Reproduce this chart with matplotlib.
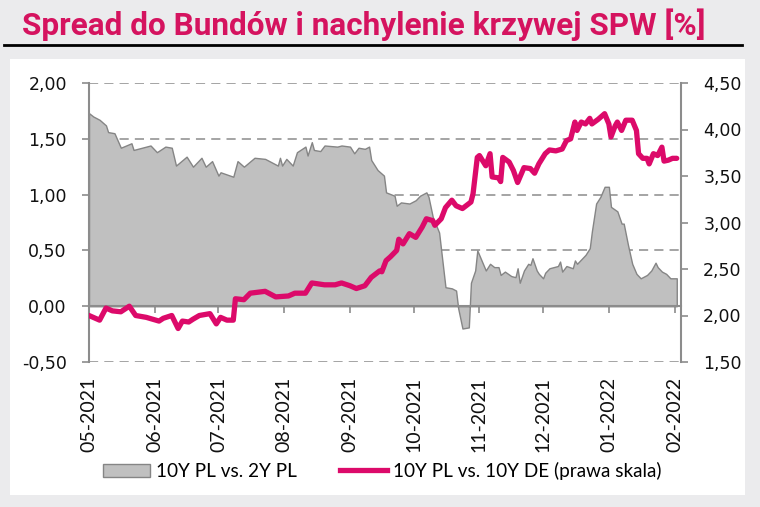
import numpy as np
import matplotlib
matplotlib.use("Agg")
import matplotlib.pyplot as plt
import matplotlib.dates as mdates
from matplotlib.ticker import FuncFormatter, MultipleLocator
from matplotlib.patches import Rectangle, Patch
from matplotlib.lines import Line2D

# dane (dni od 2021-05-01)
start = np.datetime64("2021-05-01")

slope_days = [0, 2, 5, 8, 9, 12, 15, 20, 21, 29, 32, 36, 39, 41, 46, 49, 53, 55, 58, 61,
              62, 68, 70, 73, 78, 83, 89, 90, 91, 93, 96, 98, 102, 103, 105, 106, 109, 111,
              117, 119, 123, 125, 127, 130, 132, 133, 136, 139, 140, 144, 145, 147, 151, 154,
              156, 159, 160, 162, 165, 168, 171, 173, 174, 176, 179, 180, 182, 183, 185, 187,
              189, 191, 193, 194, 196, 199, 201, 202, 203, 205, 207, 208, 209, 211, 212, 214,
              215, 217, 221, 222, 223, 225, 228, 229, 230, 234, 236, 237, 239, 241, 243, 245,
              246, 249, 251, 252, 254, 256, 258, 260, 263, 265, 267, 268, 270, 272, 274, 277]
slope_vals = [1.73, 1.70, 1.67, 1.62, 1.56, 1.55, 1.42, 1.46, 1.40, 1.44, 1.38, 1.43, 1.42,
              1.26, 1.34, 1.25, 1.33, 1.25, 1.30, 1.17, 1.20, 1.16, 1.30, 1.25, 1.33, 1.32,
              1.26, 1.33, 1.26, 1.32, 1.26, 1.38, 1.43, 1.35, 1.47, 1.40, 1.39, 1.44, 1.43,
              1.44, 1.43, 1.37, 1.42, 1.41, 1.43, 1.31, 1.22, 1.17, 1.02, 0.99, 0.90, 0.93,
              0.92, 0.95, 0.99, 1.02, 0.98, 0.80, 0.66, 0.17, 0.16, 0.14, -0.02, -0.20, -0.19,
              0.21, 0.32, 0.50, 0.41, 0.32, 0.38, 0.35, 0.35, 0.28, 0.31, 0.27, 0.26, 0.34,
              0.21, 0.32, 0.38, 0.37, 0.43, 0.32, 0.29, 0.25, 0.30, 0.34, 0.36, 0.40, 0.31,
              0.36, 0.34, 0.41, 0.38, 0.46, 0.52, 0.67, 0.92, 0.98, 1.07, 1.07, 0.89, 0.85,
              0.74, 0.74, 0.55, 0.38, 0.29, 0.25, 0.28, 0.32, 0.39, 0.35, 0.31, 0.29, 0.25, 0.25]

bund_days = [0, 5, 8, 11, 15, 19, 22, 27, 33, 35, 39, 42, 44, 47, 49, 52, 57, 60, 62, 65,
             68, 69, 73, 76, 83, 88, 94, 97, 102, 105, 111, 116, 119, 123, 126, 130, 133,
             137, 138, 140, 142, 145, 146, 148, 151, 154, 157, 159, 162, 163, 166, 168, 171,
             173, 176, 180, 181, 183, 184, 187, 189, 190, 193, 194, 195, 198, 200, 202, 205,
             208, 210, 212, 215, 217, 220, 223, 225, 227, 229, 230, 232, 234, 236, 237, 240,
             243, 245, 246, 248, 249, 251, 253, 256, 258, 259, 261, 263, 264, 266, 268, 270,
             271, 273, 275, 277]
bund_vals = [2.00, 1.95, 2.08, 2.05, 2.04, 2.10, 2.00, 1.98, 1.94, 1.97, 2.00, 1.86, 1.94,
             1.93, 1.96, 2.00, 2.02, 1.91, 1.98, 1.95, 1.95, 2.18, 2.17, 2.24, 2.26, 2.20,
             2.21, 2.24, 2.24, 2.35, 2.33, 2.33, 2.35, 2.32, 2.29, 2.32, 2.41, 2.48, 2.47,
             2.59, 2.63, 2.70, 2.82, 2.77, 2.88, 2.84, 2.95, 3.04, 3.02, 2.97, 3.04, 3.16,
             3.24, 3.18, 3.15, 3.22, 3.31, 3.70, 3.72, 3.61, 3.74, 3.49, 3.48, 3.44, 3.70,
             3.65, 3.56, 3.43, 3.59, 3.58, 3.53, 3.63, 3.74, 3.78, 3.77, 3.79, 3.88, 3.90,
             4.08, 3.99, 4.08, 4.06, 4.12, 4.06, 4.11, 4.17, 4.06, 3.92, 4.04, 4.08, 3.99,
             4.10, 4.10, 3.99, 3.74, 3.69, 3.69, 3.63, 3.74, 3.72, 3.81, 3.66, 3.67, 3.69, 3.69]

title = "Spread do Bundów i nachylenie krzywej SPW [%]"
label_slope = "10Y PL vs. 2Y PL"
label_bund = "10Y PL vs. 10Y DE (prawa skala)"

pink = "#dc0a6a"
axis_grey = "#8c8c8c"

slope_dates = start + np.array(slope_days).astype("timedelta64[D]")
bund_dates = start + np.array(bund_days).astype("timedelta64[D]")

fig = plt.figure(figsize=(7.6, 5.07), dpi=100, facecolor="#ebebed")
fig.patches.append(Rectangle((10 / 760, 1 - 495 / 507), 735 / 760, 436 / 507,
                             transform=fig.transFigure, facecolor="white",
                             edgecolor="none", zorder=-10))
fig.lines.append(Line2D([4 / 760, 742 / 760], [1 - 45 / 507, 1 - 45 / 507],
                        transform=fig.transFigure, color="black", lw=2, zorder=-5))
fig.text(22 / 760, 1 - 35 / 507, title, color="#d5135f", fontsize=22.7,
         fontweight="bold", family=["Roboto", "DejaVu Sans"], va="baseline")

ax = fig.add_axes([89 / 760, 1 - 362 / 507, 592 / 760, 279 / 507])
ax.patch.set_visible(False)
ax.fill_between(slope_dates, slope_vals, 0, facecolor="#c0c0c0",
                edgecolor="#858585", lw=1.0, zorder=2)
ax.set_ylim(-0.5, 2.0)
ax.set_xlim(start, start + np.timedelta64(279, "D"))
ax.yaxis.set_major_locator(MultipleLocator(0.5))
comma = FuncFormatter(lambda v, p: f"{v:.2f}".replace(".", ","))
ax.yaxis.set_major_formatter(comma)
ax.set_axisbelow(True)
ax.grid(axis="y", color="#8c8c8c", lw=1.1, ls=(0, (6, 4)))
ax.grid(axis="x", visible=False)

for s in ["top", "right"]:
    ax.spines[s].set_visible(False)
ax.spines["left"].set_color(axis_grey)
ax.spines["left"].set_linewidth(1.5)
ax.spines["bottom"].set_position(("data", 0))
ax.spines["bottom"].set_color(axis_grey)
ax.spines["bottom"].set_linewidth(1.5)
ax.spines["bottom"].set_zorder(3)

ax.xaxis.set_major_locator(mdates.MonthLocator())
ax.xaxis.set_major_formatter(mdates.DateFormatter("%m-%Y"))
ax.tick_params(axis="x", direction="out", length=5, width=1.2, color=axis_grey,
               pad=46, labelsize=14, labelrotation=90, labelcolor="#111111")
for t in ax.get_xticklabels():
    t.set_family(["Lato", "DejaVu Sans"])
ax.tick_params(axis="y", direction="out", length=5, width=1.2, color=axis_grey,
               pad=11, labelsize=12.5, labelcolor="#111111")

ax2 = ax.twinx()
ax2.plot(bund_dates, bund_vals, color=pink, lw=3.8, solid_joinstyle="round",
         solid_capstyle="round")
ax2.set_ylim(1.5, 4.5)
ax2.yaxis.set_major_locator(MultipleLocator(0.5))
ax2.yaxis.set_major_formatter(comma)
for s in ["top", "left", "bottom"]:
    ax2.spines[s].set_visible(False)
ax2.spines["right"].set_color(axis_grey)
ax2.spines["right"].set_linewidth(1.5)
ax2.tick_params(axis="y", direction="out", length=5, width=1.2, color=axis_grey,
                pad=11, labelsize=12.5, labelcolor="#111111")

handles = [Patch(facecolor="#c0c0c0", edgecolor="#858585", lw=1.0),
           Line2D([0], [0], color=pink, lw=3.8)]
fig.legend(handles, [label_slope, label_bund], loc="center",
           bbox_to_anchor=(382 / 760, 1 - 471 / 507), ncol=2, frameon=False,
           prop={"family": ["Lato", "DejaVu Sans"], "size": 13.6},
           handlelength=2.5, handletextpad=0.3, columnspacing=2.3)

fig.savefig("out.png", dpi=100, facecolor=fig.get_facecolor())
